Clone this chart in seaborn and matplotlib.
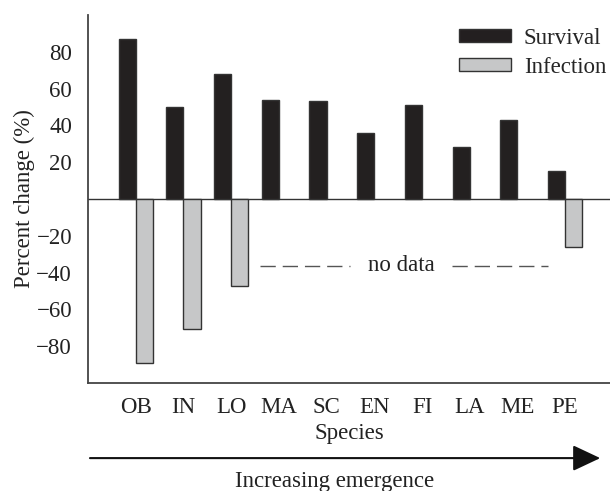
import matplotlib
matplotlib.use("Agg")
from matplotlib import pyplot as plt
from matplotlib.patches import Patch
import seaborn as sns
import pandas as pd
import numpy as np

species = ['OB', 'IN', 'LO', 'MA', 'SC', 'EN', 'FI', 'LA', 'ME', 'PE']
survival = [87, 50, 68, 54, 53, 36, 51, 28, 43, 15]
infection = [-89, -70.5, -47.5, np.nan, np.nan, np.nan, np.nan, np.nan, np.nan, -26]

df = pd.DataFrame({'Species': species * 2,
                   'value': survival + infection,
                   'kind': ['Survival'] * len(species) + ['Infection'] * len(species)})

sns.set_style("white")
plt.rcParams['font.family'] = ['Liberation Serif', 'DejaVu Serif']
fs = 16.5

fig = plt.figure(figsize=(6.1, 4.91), dpi=100)
ax = fig.add_axes([0.1443, 0.22, 0.8557, 0.7495])

sns.barplot(data=df, x='Species', y='value', hue='kind',
            palette={'Survival': '#231f20', 'Infection': '#c6c7c8'},
            width=0.72, gap=0, linewidth=1, edgecolor='#333333',
            legend=False, ax=ax)

ax.axhline(0, color='#333333', lw=1, zorder=0)
ax.set_ylim(-100, 100)
ax.set_xlim(-1, 9.94)
ax.set_yticks([-80, -60, -40, -20, 20, 40, 60, 80])
ax.set_yticklabels(['\u221280', '\u221260', '\u221240', '\u221220', '20', '40', '60', '80'])
ax.tick_params(axis='both', direction='in', length=4, width=1, color='#444444',
               labelsize=fs, labelcolor='#222222')
ax.tick_params(axis='x', pad=10)
ax.tick_params(axis='y', pad=11.5)
for s in ['top', 'right']:
    ax.spines[s].set_visible(False)
for s in ['left', 'bottom']:
    ax.spines[s].set_color('#444444')
    ax.spines[s].set_linewidth(1.3)

ax.set_xlabel('Species', fontsize=fs, color='#222222', labelpad=4)
ax.set_ylabel('Percent change (%)', fontsize=fs, color='#222222', labelpad=1)

handles = [Patch(facecolor='#231f20', edgecolor='#333333', label='Survival'),
           Patch(facecolor='#c6c7c8', edgecolor='#333333', label='Infection')]
ax.legend(handles=handles, loc='upper right', frameon=False, fontsize=fs,
          handlelength=2.3, handleheight=0.5, handletextpad=0.55,
          labelspacing=0.35, borderaxespad=0.0, borderpad=0,
          bbox_to_anchor=(0.993, 0.965))

# "no data" annotation
ax.plot([2.61, 4.5], [-36.4, -36.4], color='#555555', lw=1, ls=(0, (11, 5)))
ax.plot([6.62, 8.64], [-36.4, -36.4], color='#555555', lw=1, ls=(0, (11, 5)))
ax.text(5.57, -36.4, 'no data', ha='center', va='center', fontsize=fs, color='#222222')

# arrow below
ax.annotate('', xy=(0.984, 0.067), xytext=(0.1475, 0.067), xycoords='figure fraction',
            textcoords='figure fraction',
            arrowprops=dict(arrowstyle='-|>,head_length=0.85,head_width=0.4',
                            mutation_scale=20, lw=1.5, color='#111111',
                            shrinkA=0, shrinkB=0))
fig.text(0.549, -0.002, 'Increasing emergence', ha='center', va='bottom',
         fontsize=fs, color='#222222')

plt.savefig('out.png', dpi=100)
